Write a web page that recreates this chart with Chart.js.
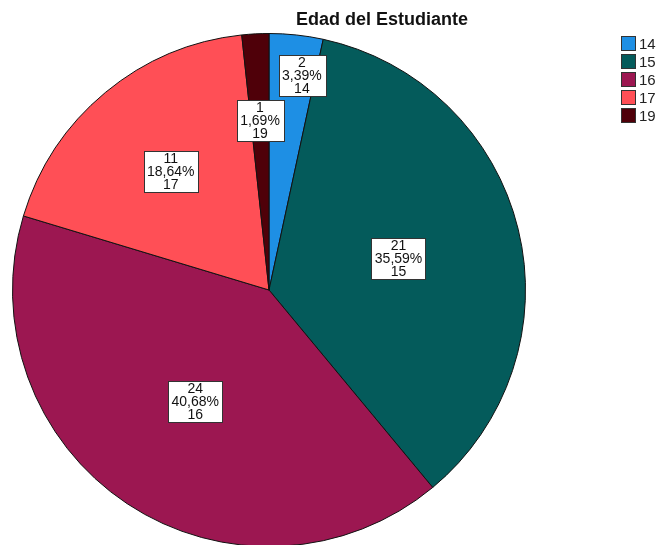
<!DOCTYPE html>
<html>
<head>
<meta charset="utf-8">
<script src="https://cdn.jsdelivr.net/npm/chart.js@4"></script>
<style>
  html, body { margin: 0; padding: 0; background: #fff; overflow: hidden; }
  #wrap { position: relative; width: 657px; height: 550px; }
</style>
</head>
<body>
<div id="wrap"><canvas id="chart-edad"></canvas></div>
<script>
  "use strict";

  // Datos
  const TITULO = "Edad del Estudiante";
  const EDADES = ["14", "15", "16", "17", "19"];
  const FRECUENCIAS = [2, 21, 24, 11, 1];
  const COLORES = ["#1e8fe4", "#045b5b", "#9c1751", "#ff4f56", "#4f0009"];

  // distancia relativa de cada etiqueta al centro (para que no se encimen)
  const DIST_ETIQUETA = [0.84, 0.52, 0.52, 0.6, 0.66];

  const FUENTE = "'Liberation Sans', Arial, sans-serif";
  const total = FRECUENCIAS.reduce((a, b) => a + b, 0);

  function pct(n) {
    return ((n / total) * 100).toFixed(2).replace(".", ",") + "%";
  }

  const etiquetasPlugin = {
    id: "etiquetas",
    afterDatasetsDraw(chart) {
      const ctx = chart.ctx;
      const meta = chart.getDatasetMeta(0);
      ctx.save();
      ctx.font = "14px " + FUENTE;
      ctx.textAlign = "center";
      ctx.textBaseline = "middle";
      const lh = 13;
      meta.data.forEach((arc, i) => {
        const mid = (arc.startAngle + arc.endAngle) / 2;
        const r = arc.outerRadius * DIST_ETIQUETA[i];
        const cx = arc.x + Math.cos(mid) * r + (i === 0 ? 10 : 0);
        const cy = arc.y + Math.sin(mid) * r;
        const lineas = [String(FRECUENCIAS[i]), pct(FRECUENCIAS[i]), EDADES[i]];
        const w = Math.max(...lineas.map((l) => ctx.measureText(l).width)) + 7;
        const h = lh * lineas.length + 2;
        const x0 = Math.round(cx - w / 2) + 0.5;
        const y0 = Math.round(cy - h / 2) + 0.5;
        ctx.fillStyle = "#fff";
        ctx.fillRect(x0, y0, Math.round(w), h);
        ctx.strokeStyle = "#333";
        ctx.lineWidth = 1;
        ctx.strokeRect(x0, y0, Math.round(w), h);
        ctx.fillStyle = "#111";
        lineas.forEach((l, k) => {
          ctx.fillText(l, cx, y0 + 1 + lh * k + lh / 2 + 0.5);
        });
      });
      ctx.restore();
    },
    afterDraw(chart) {
      const ctx = chart.ctx;
      ctx.save();
      // título
      ctx.font = "bold 18px " + FUENTE;
      ctx.fillStyle = "#111";
      ctx.textAlign = "center";
      ctx.textBaseline = "middle";
      ctx.fillText(TITULO, 382, 20);
      // leyenda
      ctx.font = "15px " + FUENTE;
      ctx.textAlign = "left";
      EDADES.forEach((e, i) => {
        const y = 37 + i * 18;
        ctx.fillStyle = COLORES[i];
        ctx.fillRect(622, y, 13, 13);
        ctx.strokeStyle = "#333";
        ctx.lineWidth = 1;
        ctx.strokeRect(621.5, y - 0.5, 14, 14);
        ctx.fillStyle = "#222";
        ctx.fillText(e, 639, y + 7.5);
      });
      ctx.restore();
    },
  };

  new Chart(document.getElementById("chart-edad"), {
    type: "pie",
    data: {
      labels: EDADES,
      datasets: [
        {
          data: FRECUENCIAS,
          backgroundColor: COLORES,
          borderColor: "#111",
          borderWidth: 1,
        },
      ],
    },
    options: {
      responsive: true,
      maintainAspectRatio: false,
      animation: false,
      layout: { padding: { left: 12, top: 33, right: 131, bottom: 3 } },
      plugins: {
        legend: { display: false },
        tooltip: { enabled: false },
      },
    },
    plugins: [etiquetasPlugin],
  });
</script>
</body>
</html>
